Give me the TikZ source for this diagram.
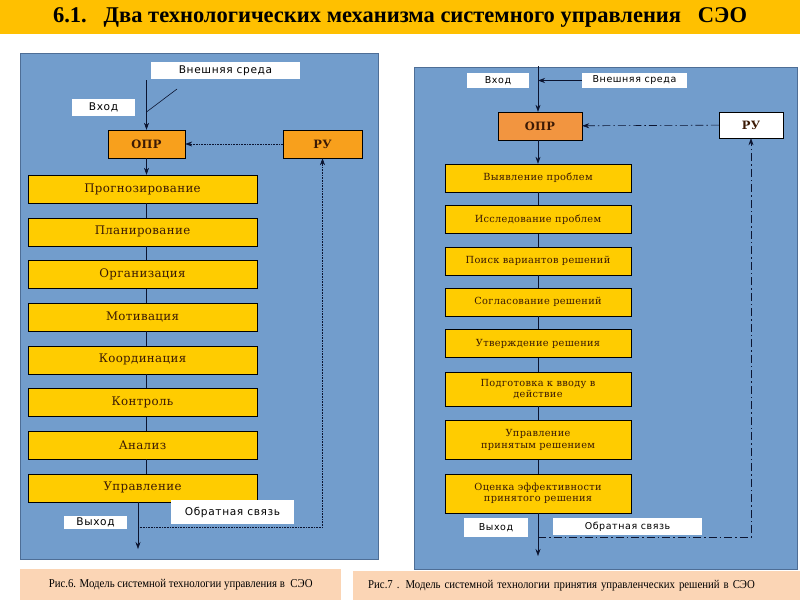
\documentclass[tikz,border=0pt]{standalone}
\usepackage{fontspec}
\setmainfont{DejaVu Serif}
\newfontfamily\stagefont[LetterSpace=3]{DejaVu Serif}
\newfontfamily\labelfont[LetterSpace=6]{DejaVu Sans}
\newfontfamily\titlefont{Liberation Serif}
\newfontfamily\capfont[FakeStretch=0.9]{Liberation Serif}
\usetikzlibrary{arrows.meta, positioning}
\definecolor{titlebar}{HTML}{FFC000}
\definecolor{panelblue}{HTML}{729DCC}
\definecolor{panelrim}{HTML}{4E6E96}
\definecolor{stageyellow}{HTML}{FFCC00}
\definecolor{stagetext}{HTML}{3B1A05}
\definecolor{oprleft}{HTML}{F8A01C}
\definecolor{oprright}{HTML}{F29540}
\definecolor{capfill}{HTML}{FBD5B5}
\definecolor{wirecol}{HTML}{0B1430}
\tikzset{
  panel/.style = {rectangle, draw=panelrim, fill=panelblue, anchor=north west, inner sep=0pt},
  stage/.style = {rectangle, draw=black, fill=stageyellow, text=stagetext, align=center, inner sep=0pt},
  stageL/.style = {stage, minimum width=229pt, minimum height=28pt, font=\stagefont\fontsize{11.8}{13}\selectfont},
  stageR/.style = {stage, minimum width=186pt, minimum height=28pt, font=\stagefont\fontsize{9.8}{11.5}\selectfont},
  boss/.style = {rectangle, draw=black, text=stagetext, inner sep=0pt, font=\stagefont\bfseries\fontsize{11.5}{13}\selectfont},
  tag/.style = {rectangle, fill=white, inner sep=0pt, text=black, font=\labelfont\fontsize{9.5}{11}\selectfont},
  tagL/.style = {tag, font=\labelfont\fontsize{10.6}{12}\selectfont},
  caption/.style = {rectangle, fill=capfill, anchor=north west, inner sep=0pt, font=\capfont\fontsize{12}{14}\selectfont},
  wire/.style = {-{Stealth[length=7pt, width=5pt]}, wirecol, semithick},
  link/.style = {wirecol, semithick},
  fbdot/.style = {-{Stealth[length=7pt, width=5pt]}, wirecol, densely dotted, semithick},
  fbdash/.style = {-{Stealth[length=7pt, width=5pt]}, wirecol, dash pattern=on 8pt off 3pt on 1.5pt off 3pt, semithick}
}
\begin{document}
\begin{tikzpicture}[x=1pt, y=-1pt]
\useasboundingbox (0,0) rectangle (800,600);
\fill[white] (0,0) rectangle (800,600);
\node[fill=titlebar, anchor=north west, minimum width=800pt, minimum height=34pt, inner sep=0pt,
  font=\titlefont\bfseries\fontsize{22.5}{24}\selectfont] (title) at (0,0)
  {\raisebox{-2pt}{6.1.\ \ \ Два технологических механизма системного управления\ \ \ СЭО}};

\node[panel, minimum width=358pt, minimum height=506pt] (panelL) at (20,53) {};
\node[panel, minimum width=383pt, minimum height=502pt] (panelR) at (414,67) {};

\node[boss, fill=oprleft, minimum width=77pt, minimum height=28pt] (oprL) at (146.5,144) {ОПР};
\node[boss, fill=oprleft, minimum width=79pt, minimum height=28pt] (ruL) at (322.5,144) {РУ};
\node[stageL] (s1) at (142.5,189) {Прогнозирование};
\node[stageL, below=14.3pt of s1] (s2) {Планирование};
\node[stageL, below=14.3pt of s2] (s3) {Организация};
\node[stageL, below=14.3pt of s3] (s4) {Мотивация};
\node[stageL, below=14.3pt of s4] (s5) {Координация};
\node[stageL, below=14.3pt of s5] (s6) {Контроль};
\node[stageL, below=14.3pt of s6] (s7) {Анализ};
\node[stageL, below=14.3pt of s7] (s8) {Управление};

\coordinate (topL) at (146.5,80);
\coordinate (diagL) at (177,89);
\coordinate (joinL) at (146.5,112);
\coordinate (outendL) at (138,549);
\coordinate (fbstartL) at (138,527);
\draw[wire] (topL) -- (oprL);
\draw[link] (diagL) -- (joinL);
\draw[wire] (oprL) -- (oprL.south |- s1.north);
\foreach \a/\b in {s1/s2, s2/s3, s3/s4, s4/s5, s5/s6, s6/s7, s7/s8}
  \draw[link] (\a.south -| oprL) -- (\b.north -| oprL);
\draw[wire] (s8.south -| outendL) -- (outendL);
\draw[fbdot] (fbstartL) -| (ruL.south);
\draw[fbdot] (ruL) -- (oprL);

\node[tagL, minimum width=149pt, minimum height=17pt] (envL) at (225.5,70.5) {Внешняя среда};
\node[tagL, minimum width=63pt, minimum height=17pt] (inL) at (103.5,107.5) {Вход};
\node[tagL, minimum width=63pt, minimum height=13pt] (outL) at (95.5,522) {Выход};
\node[tagL, minimum width=123pt, minimum height=24pt] (fbL) at (232.5,512) {Обратная связь};

\node[boss, fill=oprright, minimum width=84pt, minimum height=28pt] (oprR) at (540,126) {ОПР};
\node[boss, fill=white, minimum width=64pt, minimum height=26pt] (ruR) at (751,125) {РУ};
\node[stageR] (r1) at (538,178) {Выявление проблем};
\node[stageR, below=13pt of r1] (r2) {Исследование проблем};
\node[stageR, below=13pt of r2] (r3) {Поиск вариантов решений};
\node[stageR, below=13pt of r3] (r4) {Согласование решений};
\node[stageR, below=13pt of r4] (r5) {Утверждение решения};
\node[stageR, minimum height=34pt, below=14pt of r5] (r6) {Подготовка к вводу в\\ действие};
\node[stageR, minimum height=39pt, below=14pt of r6] (r7) {Управление\\ принятым решением};
\node[stageR, minimum height=39pt, below=14pt of r7] (r8) {Оценка эффективности\\ принятого решения};

\coordinate (topR) at (538,66);
\coordinate (outendR) at (538,556);
\coordinate (fbstartR) at (538,537);
\draw[wire] (topR) -- (topR |- oprR.north);
\draw[wire] (oprR.south -| topR) -- (r1);
\foreach \a/\b in {r1/r2, r2/r3, r3/r4, r4/r5, r5/r6, r6/r7, r7/r8}
  \draw[link] (\a) -- (\b);
\draw[wire] (r8) -- (outendR);
\draw[fbdash] (fbstartR) -| (ruR.south);
\draw[fbdash] (ruR) -- (oprR);

\node[tag, minimum width=62pt, minimum height=15pt] (inR) at (498,80.5) {Вход};
\node[tag, minimum width=105pt, minimum height=15pt] (envR) at (634.5,80.5) {Внешняя среда};
\draw[wire] (envR.west) -- (envR.west -| topR);
\node[tag, minimum width=64pt, minimum height=19pt] (outR) at (496,527.5) {Выход};
\node[tag, minimum width=149pt, minimum height=17pt] (fbR) at (627.5,526.5) {Обратная связь};

\node[caption, minimum width=321pt, minimum height=31pt] (capL) at (20,569)
  {\raisebox{-4pt}{Рис.6. Модель системной технологии управления в\ \ СЭО}};
\node[caption, minimum height=29pt, text width=417pt, inner xsep=15pt, align=left] (capR) at (353,571)
  {\raisebox{-3pt}{Рис.7 . Модель системной технологии принятия управленческих решений в СЭО}};
\end{tikzpicture}
\end{document}
